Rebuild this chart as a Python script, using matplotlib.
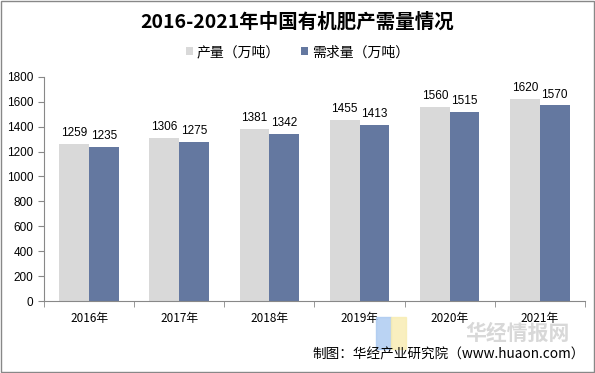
# -*- coding: utf-8 -*-
import matplotlib.pyplot as plt
import numpy as np
from matplotlib.patches import Rectangle

plt.rcParams['font.family'] = ['Noto Sans CJK SC', 'DejaVu Sans']

years = ['2016年', '2017年', '2018年', '2019年', '2020年', '2021年']
production = [1259, 1306, 1381, 1455, 1560, 1620]
demand = [1235, 1275, 1342, 1413, 1515, 1570]

fig = plt.figure(figsize=(5.95, 3.73), dpi=100)
ax = fig.add_axes([0.074, 0.193, 0.909, 0.601])

x = np.arange(len(years))
w = 0.33
b1 = ax.bar(x - w / 2, production, w, color='#d9d9d9', label='产量（万吨）')
b2 = ax.bar(x + w / 2, demand, w, color='#6478a0', label='需求量（万吨）')
for bars in (b1, b2):
    for r in bars:
        ax.text(r.get_x() + r.get_width() / 2, r.get_height() + 40, str(int(r.get_height())),
                ha='center', va='bottom', fontsize=8.5, family='Liberation Sans')

ax.set_xlim(-0.5, len(years) - 0.5)
ax.set_ylim(0, 1800)
ax.set_yticks(range(0, 1801, 200))
ax.set_xticks(x)
ax.set_xticklabels(years, fontsize=8.5)
ax.set_xticks(np.arange(-0.5, len(years)), minor=True)
ax.tick_params(axis='x', which='major', length=0, pad=8)
ax.tick_params(axis='x', which='minor', length=4, color='#888888')
ax.tick_params(axis='y', length=4, color='#888888', labelsize=8.5)
for lbl in ax.get_yticklabels():
    lbl.set_family('Liberation Sans')
for s in ['top', 'right']:
    ax.spines[s].set_visible(False)
for s in ['left', 'bottom']:
    ax.spines[s].set_color('#888888')

fig.text(0.5, 0.94, '2016-2021年中国有机肥产需量情况', ha='center', va='center',
         fontsize=14, fontweight='bold')
fig.legend(loc='center', bbox_to_anchor=(0.5, 0.86), ncol=2, frameon=False,
           fontsize=10, handlelength=0.5, handleheight=0.5, handletextpad=0.3,
           columnspacing=1.5)

# watermark
fig.patches.append(Rectangle((0.632, 0.065), 0.025, 0.085, transform=fig.transFigure,
                             color='#a9c8f0', alpha=0.8, zorder=0))
fig.patches.append(Rectangle((0.657, 0.065), 0.025, 0.085, transform=fig.transFigure,
                             color='#f8ecb0', alpha=0.8, zorder=0))
fig.text(0.87, 0.105, '华经情报网', ha='center', va='center', fontsize=15,
         fontweight='bold', color='#d8d8d8', zorder=0)

fig.text(0.983, 0.05, '制图：华经产业研究院（www.huaon.com）', ha='right', va='center',
         fontsize=9.8)

fig.patches.append(Rectangle((0.002, 0.003), 0.996, 0.994, transform=fig.transFigure,
                             fill=False, edgecolor='#888888', linewidth=1))

fig.savefig('out.png', dpi=100)
